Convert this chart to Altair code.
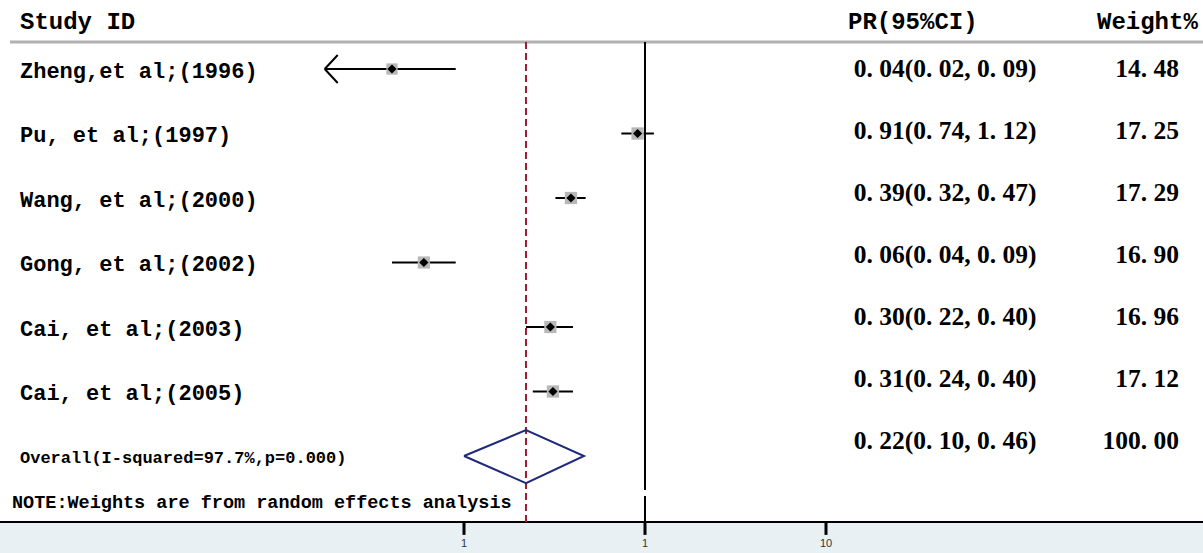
import altair as alt
import pandas as pd

# ---- data ----
studies = ["Zheng,et al;(1996)", "Pu, et al;(1997)", "Wang, et al;(2000)",
           "Gong, et al;(2002)", "Cai, et al;(2003)", "Cai, et al;(2005)"]
pr = [0.04, 0.91, 0.39, 0.06, 0.30, 0.31]
ci_lo = [0.016, 0.74, 0.32, 0.04, 0.22, 0.24]
ci_hi = [0.09, 1.12, 0.47, 0.09, 0.40, 0.40]
weights = [14.48, 17.25, 17.29, 16.90, 16.96, 17.12]
overall_label = "Overall(I-squared=97.7%,p=0.000)"
overall_pr, overall_lo, overall_hi, overall_w = 0.22, 0.10, 0.46, 100.00
note_text = "NOTE:Weights are from random effects analysis"
tick_values = [0.1, 1, 10]
tick_labels = ["1", "1", "10"]
x_min = 0.017  # left limit of the plotted range (arrow beyond)

# ---- scales ----
W, H = 1203, 553
xs = alt.Scale(type="log", domain=[0.1, 10], range=[464, 826], nice=False, clamp=False)
ys = alt.Scale(domain=[-1.0698, 7.504], range=[0, H], nice=False, zero=False)

def X(f="x"):
    return alt.X(f"{f}:Q", scale=xs, axis=None)

def Y(f="y"):
    return alt.Y(f"{f}:Q", scale=ys, axis=None)

def fmt(v):
    return f"{v:.2f}".replace(".", ". ")

n = len(studies)
rows = list(range(n))
df = pd.DataFrame({
    "study": studies, "y": rows, "pr": pr,
    "lo": [max(l, x_min) for l in ci_lo], "hi": ci_hi, "w": weights,
    "arrow": [l < x_min for l in ci_lo],
    "prtxt": [f"{fmt(p)}({fmt(l)}, {fmt(h)})" for p, l, h in zip(pr, ci_lo, ci_hi)],
    "wtxt": [fmt(w) for w in weights],
})
tab = pd.DataFrame({
    "ty": [i * 0.961 for i in range(n + 1)],
    "prtxt": list(df["prtxt"]) + [f"{fmt(overall_pr)}({fmt(overall_lo)}, {fmt(overall_hi)})"],
    "wtxt": list(df["wtxt"]) + [fmt(overall_w)],
})

axis_y = 7.023
head_y = -0.419
bottom_y = 7.504

bg = alt.Chart(pd.DataFrame({"y": [axis_y], "y2": [bottom_y]})).mark_rect(color="#e9f0f3").encode(
    x=alt.value(0), x2=alt.value(W), y=Y(), y2="y2:Q")

head_line = alt.Chart(pd.DataFrame({"y": [head_y]})).mark_rule(color="#b0b0b0", strokeWidth=3).encode(
    x=alt.value(10), x2=alt.value(W), y=Y())

axis_line = alt.Chart(pd.DataFrame({"y": [axis_y]})).mark_rule(color="black", strokeWidth=2).encode(
    x=alt.value(0), x2=alt.value(W), y=Y())

ticks_df = pd.DataFrame({"x": tick_values, "lab": tick_labels, "y": [axis_y] * 3,
                         "y2": [axis_y + 0.2] * 3, "ly": [7.36] * 3})
ticks = alt.Chart(ticks_df).mark_rule(color="black", strokeWidth=3).encode(x=X(), y=Y(), y2="y2:Q")
tick_text = alt.Chart(ticks_df).mark_text(fontSize=11, font="Liberation Sans", color="#333333",
                                          baseline="middle").encode(x=X(), y=Y("ly"), text="lab:N")

null_df = pd.DataFrame({"x": [1, 1], "y": [head_y, 6.62], "y2": [6.527, axis_y]})
null_line = alt.Chart(null_df).mark_rule(color="black", strokeWidth=2).encode(x=X(), y=Y(), y2="y2:Q")

ovl_line = alt.Chart(pd.DataFrame({"x": [overall_pr], "y": [head_y], "y2": [axis_y]})).mark_rule(
    color="#9e1b32", strokeWidth=2, strokeDash=[7, 4]).encode(x=X(), y=Y(), y2="y2:Q")

ci = alt.Chart(df).mark_rule(color="black", strokeWidth=2).encode(x=X("lo"), x2="hi:Q", y=Y())

arrow = alt.Chart(df).transform_filter("datum.arrow").mark_point(
    shape="M0,0L0.93,-1M0,0L0.93,1", filled=False, color="black", strokeWidth=2, size=784, opacity=1
).encode(x=X("lo"), y=Y())

boxes = alt.Chart(df).mark_point(shape="square", filled=True, color="#b8b8b8", opacity=1).encode(
    x=X("pr"), y=Y(), size=alt.Size("w:Q", scale=alt.Scale(type="linear", domain=[0, 20], range=[0, 175]), legend=None))

dots = alt.Chart(df).mark_point(shape="diamond", filled=True, color="black", size=85, opacity=1).encode(
    x=X("pr"), y=Y())

dia_df = pd.DataFrame({
    "x": [overall_lo, overall_pr, overall_hi, overall_pr, overall_lo],
    "y": [6.0, 5.6, 6.0, 6.42, 6.0],
    "o": [0, 1, 2, 3, 4],
})
diamond = alt.Chart(dia_df).mark_line(color="#1f2a7a", strokeWidth=2).encode(
    x=X(), y=Y(), order="o:Q")

labels = alt.Chart(df).mark_text(align="left", baseline="middle", font="Liberation Mono",
                                 fontWeight="bold", fontSize=22, dy=2).encode(
    x=alt.value(20), y=Y(), text="study:N")

prcol = alt.Chart(tab).mark_text(align="center", baseline="middle", font="Liberation Serif",
                                 fontWeight="bold", fontSize=25.5).encode(x=alt.value(945), y=Y("ty"), text="prtxt:N")
wcol = alt.Chart(tab).mark_text(align="right", baseline="middle", font="Liberation Serif",
                                fontWeight="bold", fontSize=25.5).encode(x=alt.value(1179), y=Y("ty"), text="wtxt:N")

hdr_df = pd.DataFrame({"y": [-0.729] * 3, "t": ["Study ID", "PR(95%CI)", "Weight%"],
                       "px": [20, 848, 1097]})
headers = alt.Chart(hdr_df).mark_text(align="left", baseline="middle", font="Liberation Mono",
                                      fontWeight="bold", fontSize=24).encode(
    x=alt.X("px:Q", scale=alt.Scale(domain=[0, W], range=[0, W]), axis=None), y=Y(), text="t:N")

ovl_text = alt.Chart(pd.DataFrame({"y": [6.03], "t": [overall_label]})).mark_text(
    align="left", baseline="middle", font="Liberation Mono", fontWeight="bold", fontSize=17).encode(
    x=alt.value(20), y=Y(), text="t:N")

note = alt.Chart(pd.DataFrame({"y": [6.713], "t": [note_text]})).mark_text(
    align="left", baseline="middle", font="Liberation Mono", fontWeight="bold", fontSize=18.5).encode(
    x=alt.value(12), y=Y(), text="t:N")

chart = alt.layer(
    bg, head_line, axis_line, ticks, tick_text, null_line, ovl_line, ci, arrow, boxes, dots,
    diamond, labels, prcol, wcol, ovl_text, note, headers
).resolve_scale(x="independent").properties(
    width=W, height=H, autosize=alt.AutoSizeParams(type="none"), padding=0, background="white"
).configure_view(stroke=None)

chart.save("out.html", embed_options={"renderer": "svg", "actions": False})
